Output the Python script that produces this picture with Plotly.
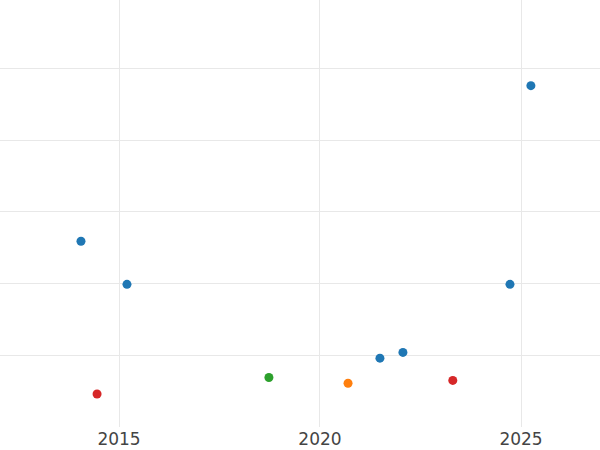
import plotly.graph_objects as go

categories = ["A", "B", "C", "D"]
colors = ["#1f77b4", "#ff7f0e", "#2ca02c", "#d62728"]

dates_a = ["2014-01-20", "2015-03-14", "2021-06-29", "2022-01-24", "2024-09-23", "2025-04-01"]
values_a = [25.9, 19.9, 9.6, 10.4, 19.9, 47.6]

dates_b = ["2020-09-12"]
values_b = [6.1]

dates_c = ["2018-09-24"]
values_c = [6.9]

dates_d = ["2014-06-15", "2023-04-22"]
values_d = [4.6, 6.5]

series = [(dates_a, values_a), (dates_b, values_b), (dates_c, values_c), (dates_d, values_d)]

fig = go.Figure()
for name, color, (xs, ys) in zip(categories, colors, series):
    fig.add_trace(go.Scatter(x=xs, y=ys, mode="markers", name=name,
                             marker=dict(color=color, size=9), showlegend=False))

fig.update_layout(
    width=600, height=450,
    margin=dict(l=0, r=0, t=0, b=23),
    paper_bgcolor="white", plot_bgcolor="white",
    font=dict(family="DejaVu Sans", size=17, color="#444"),
    xaxis=dict(type="date", range=["2012-01-15", "2026-12-20"], dtick="M60", tick0="2015-01-01",
               tickformat="%Y", showgrid=True, gridcolor="#e8e8e8", gridwidth=1,
               zeroline=False, showline=False, ticks="", automargin=False),
    yaxis=dict(range=[0, 59.55], dtick=10, showticklabels=False, showgrid=True,
               gridcolor="#e8e8e8", gridwidth=1, zeroline=False, showline=False,
               automargin=False),
)

fig.write_html("out.html", config={"displayModeBar": False},
               post_script="document.body.style.margin='0';document.body.style.overflow='hidden';")
